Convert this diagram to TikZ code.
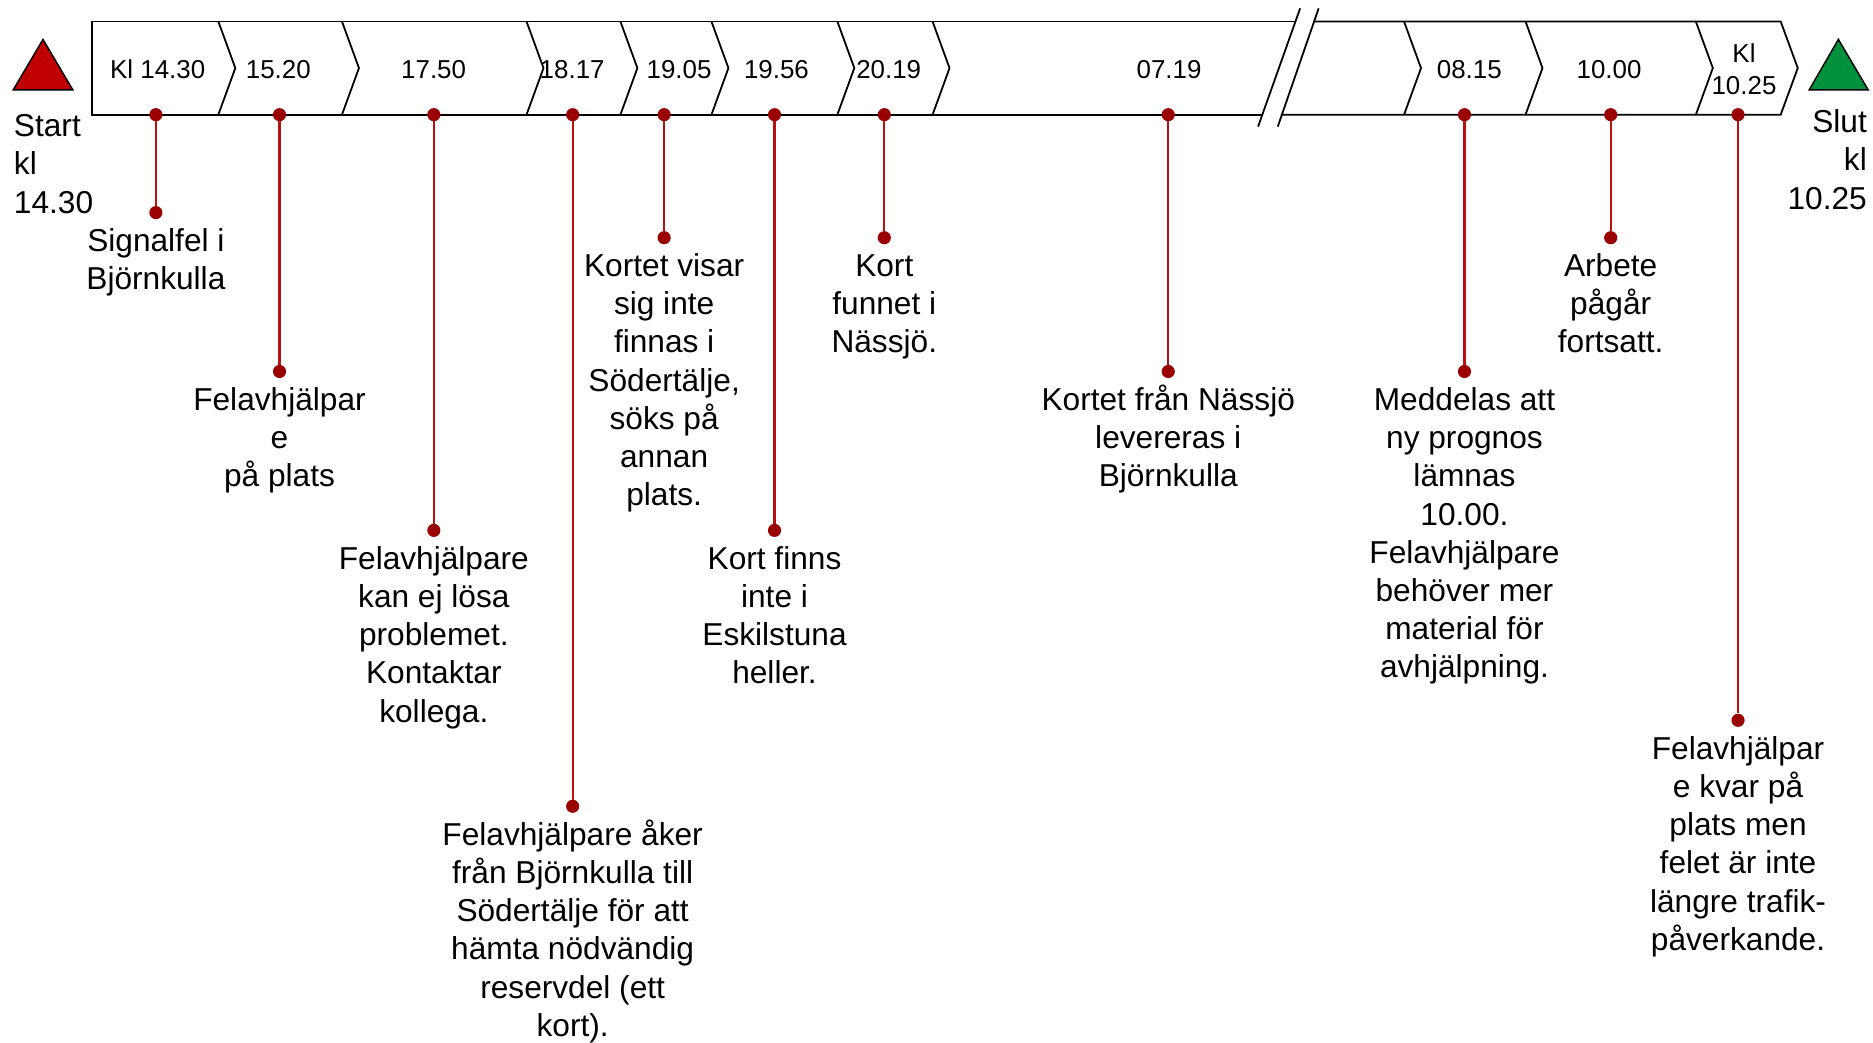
\documentclass[tikz,border=0pt]{standalone}
\usepackage{fontspec}
\setmainfont{Liberation Sans}
\definecolor{dotred}{RGB}{155,0,0}
\definecolor{linered}{RGB}{185,15,15}
\definecolor{startred}{RGB}{192,0,0}
\definecolor{endgreen}{RGB}{0,145,62}
\tikzset{
  barline/.style={line width=1.5pt, draw=black, line join=miter},
  evdot/.style={circle, fill=dotred, minimum size=11pt, inner sep=0pt},
  conn/.style={draw=linered, line width=1.8pt},
  evtext/.style={font=\fontsize{26.5}{32}\selectfont, align=center, inner sep=0pt, anchor=base},
  timetext/.style={font=\fontsize{21.7}{26.5}\selectfont, align=center, inner sep=0pt, anchor=base},
  endtri/.style={draw=black, line width=1.2pt, line join=miter},
}
\begin{document}
\begin{tikzpicture}[x=1pt,y=-1pt]
\useasboundingbox (0,0) rectangle (1568,873);
\fill[white] (0,0) rectangle (1568,873);

% bar outline with break
\draw[barline] (1084.5,18) -- (77,18) -- (77,96) -- (1056.8,96);
\draw[barline] (1100,18) -- (1490.7,18) -- (1505,57) -- (1490.7,96) -- (1072.3,96);
\foreach \xx in {182.8,286.3,440.8,519.4,595.6,701,780.7,1175.4,1277.1,1419.7}
  \draw[barline] (\xx,18) -- (\xx+14.2,57) -- (\xx,96);
\draw[barline] (1088.4,7) -- (1053.2,106);
\draw[barline] (1103.9,7) -- (1069.7,106);

% time labels
\node[timetext] (l1) at (132,65.6) {Kl 14.30};
\node[timetext] (l2) at (233,65.6) {15.20};
\node[timetext] (l3) at (363,65.6) {17.50};
\node[timetext] (l4) at (479,65.6) {18.17};
\node[timetext] (l5) at (568.5,65.6) {19.05};
\node[timetext] (l6) at (650,65.6) {19.56};
\node[timetext] (l7) at (744,65.6) {20.19};
\node[timetext] (l8) at (978.7,65.6) {07.19};
\node[timetext] (l9) at (1230,65.6) {08.15};
\node[timetext] (l10) at (1347,65.6) {10.00};
\node[timetext] (l11) at (1460,79) {Kl\\10.25};

% start / end markers
\draw[endtri, fill=startred] (36,33) -- (11,75.3) -- (61,75.3) -- cycle;
\draw[endtri, fill=endgreen] (1539,33) -- (1514.5,75.3) -- (1564,75.3) -- cycle;
\node[evtext, align=left, anchor=base west] (start) at (11.5,178.4) {Start\\kl\\14.30};
\node[evtext, align=right, anchor=base east] (slut) at (1563,175) {Slut\\kl\\10.25};

% events
\foreach \i/\xx/\yy in {1/130.5/178, 2/234/311, 3/363.2/444, 4/479.4/675, 5/556/199, 6/648.4/444, 7/740.3/199, 8/978/311, 9/1226/311, 10/1348.4/199, 11/1455/603}{
  \node[evdot] (t\i) at (\xx,96) {};
  \node[evdot] (b\i) at (\xx,\yy) {};
  \draw[conn] (t\i) -- (b\i);
}

\node[evtext] (e1) at (130.5,242.5) {Signalfel i\\Björnkulla};
\node[evtext] (e2) at (234,407.5) {Felavhjälpar\\e\\på plats};
\node[evtext] (e3) at (363.2,604.5) {Felavhjälpare\\kan ej lösa\\problemet.\\Kontaktar\\kollega.};
\node[evtext] (e4) at (479.4,867.5) {Felavhjälpare åker\\från Björnkulla till\\Södertälje för att\\hämta nödvändig\\reservdel (ett\\kort).};
\node[evtext] (e5) at (556,423.5) {Kortet visar\\sig inte\\finnas i\\Södertälje,\\söks på\\annan\\plats.};
\node[evtext] (e6) at (648.4,572.5) {Kort finns\\inte i\\Eskilstuna\\heller.};
\node[evtext] (e7) at (740.3,295.5) {Kort\\funnet i\\Nässjö.};
\node[evtext] (e8) at (978,407.5) {Kortet från Nässjö\\levereras i\\Björnkulla};
\node[evtext] (e9) at (1226,567.5) {Meddelas att\\ny prognos\\lämnas\\10.00.\\Felavhjälpare\\behöver mer\\material för\\avhjälpning.};
\node[evtext] (e10) at (1348.4,295.5) {Arbete\\pågår\\fortsatt.};
\node[evtext] (e11) at (1455,795.5) {Felavhjälpar\\e kvar på\\plats men\\felet är inte\\längre trafik-\\påverkande.};
\end{tikzpicture}
\end{document}
